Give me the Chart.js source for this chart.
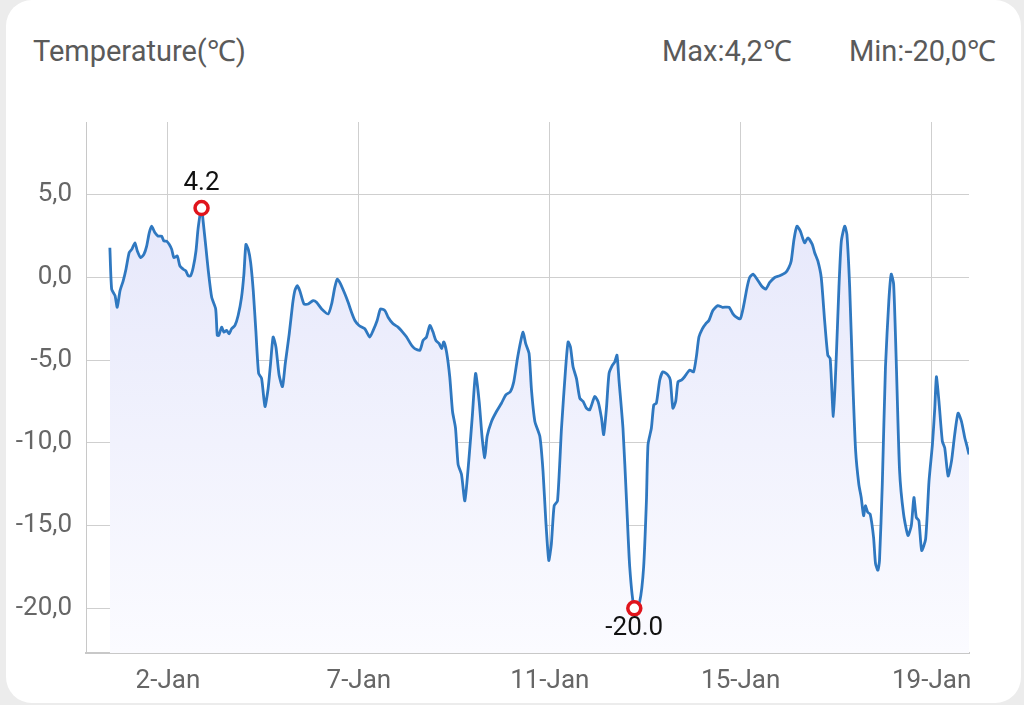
<!DOCTYPE html>
<html>
<head>
<meta charset="utf-8">
<script src="https://cdn.jsdelivr.net/npm/chart.js@4.4.1/dist/chart.umd.min.js"></script>
<style>
  html, body { margin: 0; padding: 0; background: #ececec; width: 1024px; height: 705px; overflow: hidden; }
  .card { position: absolute; left: 6px; top: 0; width: 1015px; height: 703px; background: #fff; border-radius: 26px; }
  .hdr { position: absolute; font-family: Roboto, sans-serif; font-size: 29px; color: #5a5a5a; top: 30px; white-space: nowrap; }
  #chart { position: absolute; left: 0; top: 0; }
</style>
</head>
<body>
<div class="card"></div>
<div class="hdr" style="left:33px">Temperature(℃)</div>
<div class="hdr" style="left:662px">Max:4,2℃</div>
<div class="hdr" style="right:28px">Min:-20,0℃</div>
<canvas id="chart" width="1024" height="705"></canvas>
<script>
// hours from the 2-Jan gridline (one label step = 96 h)
const hours = [
  -29.2,-28.3,-26.6,-25.5,-24.1,-22.5,-21.1,-19.5,-18.2,-16.6,
  -15.4,-13.7,-12.1,-10.7,-9.4,-8.2,-6.5,-4.9,-3.2,-2.0,
  -0.7,0.7,1.9,3.0,4.7,6.0,7.7,9.0,10.2,11.4,
  12.7,14.1,15.2,16.9,17.7,19.1,20.3,22.0,24.0,24.8,
  25.6,27.0,28.1,29.5,30.8,32.0,33.7,35.3,37.0,38.2,
  39.2,40.4,41.6,42.9,44.2,45.6,47.1,48.8,50.4,51.6,
  52.9,54.3,55.9,57.6,59.0,61.0,62.7,63.8,65.0,66.3,
  68.4,70.5,73.0,74.7,77.3,80.6,82.3,83.9,85.1,86.4,
  89.0,90.6,92.3,94.0,96.1,99.0,101.5,103.2,105.2,106.9,
  109.1,110.7,113.2,115.7,118.0,120.0,122.5,124.1,126.7,128.3,
  130.0,131.7,133.3,134.7,136.4,137.6,138.7,140.1,141.7,143.1,
  144.6,145.9,147.6,149.3,151.4,153.1,154.7,156.5,158.0,159.3,
  160.5,162.7,165.2,167.7,169.9,172.2,173.9,175.6,177.3,178.6,
  179.9,181.6,182.8,184.5,187.0,188.6,190.0,191.5,192.8,194.2,
  195.9,197.9,199.9,201.2,202.4,203.7,205.4,207.1,208.8,210.4,
  212.1,214.6,216.3,218.0,219.1,220.5,221.8,223.5,224.7,225.8,
  226.8,228.8,230.6,232.2,234.5,237.2,239.2,240.6,241.4,243.1,
  244.3,245.6,247.3,248.9,251.4,252.6,253.9,255.3,256.5,258.2,
  259.8,262.3,264.3,265.7,267.0,268.7,270.4,272.0,274.0,276.5,
  278.8,282.1,284.1,285.8,287.8,289.5,291.2,292.5,294.2,296.2,
  298.4,300.6,302.6,305.1,307.6,310.6,312.2,313.4,314.8,316.3,
  318.0,320.1,321.8,324.0,325.2,326.8,328.5,330.2,331.8,333.0,
  334.6,336.1,337.4,338.6,340.3,341.4,342.8,344.4,345.8,347.4,
  348.6,349.8,350.7,351.9,353.1,354.8,355.8,357.0,357.8,359.2,
  360.8,362.5,363.7,364.9,366.2,367.9,369.9,372.1,373.8,375.1,
  376.3,377.6,379.0,381.0,382.7,384.4,385.6,386.4,387.7,389.4,
  390.6,392.3,394.0,395.6,397.3,399.0,400.7,401.8,402.8
];
const temps = [
  1.8,-0.7,-1.1,-1.8,-0.8,-0.2,0.5,1.5,1.7,2.1,
  1.6,1.2,1.4,1.9,2.7,3.1,2.7,2.5,2.5,2.2,
  2.2,2.0,1.7,1.2,1.3,0.7,0.5,0.4,0.1,0.1,
  0.6,1.6,3.0,4.2,3.4,1.8,0.4,-1.2,-1.9,-3.5,
  -3.5,-3.0,-3.3,-3.2,-3.4,-3.1,-2.9,-2.3,-1.2,0.2,
  2.0,1.7,0.9,-0.8,-3.2,-5.8,-6.1,-7.8,-6.7,-5.2,
  -3.6,-4.2,-5.9,-6.6,-5.2,-3.4,-1.6,-0.8,-0.5,-0.8,
  -1.6,-1.6,-1.4,-1.5,-1.9,-2.2,-1.6,-0.6,-0.1,-0.3,
  -1.0,-1.5,-2.1,-2.6,-2.9,-3.1,-3.6,-3.2,-2.6,-1.9,
  -2.0,-2.4,-2.8,-3.0,-3.3,-3.6,-4.1,-4.3,-4.4,-3.8,
  -3.6,-2.9,-3.3,-3.8,-4.0,-4.3,-3.9,-4.5,-6.0,-8.1,
  -9.1,-11.3,-11.9,-13.5,-10.9,-8.3,-5.8,-7.5,-9.7,-10.9,
  -9.6,-8.7,-8.1,-7.6,-7.1,-6.9,-6.3,-5.0,-3.9,-3.3,
  -4.0,-4.6,-6.8,-8.7,-9.6,-11.7,-14.7,-17.1,-16.1,-13.8,
  -13.5,-9.1,-5.6,-3.9,-4.2,-5.4,-6.1,-7.3,-7.5,-7.9,
  -8.0,-7.2,-7.5,-8.5,-9.5,-7.9,-5.8,-5.3,-5.1,-4.7,
  -6.2,-9.1,-13.5,-17.5,-20.0,-19.6,-17.5,-13.5,-10.1,-9.1,
  -7.7,-7.6,-6.2,-5.7,-5.9,-6.2,-7.9,-7.5,-6.3,-6.2,
  -6.0,-5.6,-5.7,-4.8,-3.6,-3.1,-2.8,-2.6,-2.0,-1.7,
  -1.8,-1.8,-2.2,-2.4,-2.5,-1.7,-0.6,0.0,0.2,-0.1,
  -0.5,-0.7,-0.3,0.0,0.1,0.3,0.6,1.0,2.3,3.1,
  2.8,2.1,2.4,2.0,1.5,1.0,0.0,-2.6,-4.7,-4.9,
  -8.4,-4.7,-0.6,2.2,3.1,2.6,-0.6,-6.4,-10.5,-12.5,
  -13.3,-14.4,-13.8,-14.2,-14.3,-15.7,-17.3,-17.7,-17.1,-12.5,
  -5.4,-1.4,0.2,-0.4,-5.0,-11.7,-14.3,-15.6,-15.0,-13.3,
  -14.5,-14.7,-16.5,-15.8,-12.3,-10.1,-7.9,-6.0,-7.5,-9.9,
  -10.3,-12.0,-11.1,-9.5,-8.2,-8.7,-9.7,-10.2,-10.7
];
const xTickPos = [0, 96, 192, 288, 384];
const xTickLabels = ['2-Jan', '7-Jan', '11-Jan', '15-Jan', '19-Jan'];
const yTicks = [-20, -15, -10, -5, 0, 5];

const maxIdx = temps.indexOf(Math.max(...temps));
const minIdx = temps.indexOf(Math.min(...temps));

const points = hours.map((h, i) => ({ x: h, y: temps[i] }));

const extremeLabels = {
    id: 'extremeLabels',
    afterDatasetsDraw(chart) {
        const meta = chart.getDatasetMeta(0);
        const ctx = chart.ctx;
        ctx.save();
        ctx.font = '26px Roboto, sans-serif';
        ctx.fillStyle = '#111';
        ctx.textAlign = 'center';
        const hi = meta.data[maxIdx];
        ctx.textBaseline = 'bottom';
        ctx.fillText(temps[maxIdx].toFixed(1), hi.x, hi.y - 12);
        const lo = meta.data[minIdx];
        ctx.textBaseline = 'top';
        ctx.fillText(temps[minIdx].toFixed(1), lo.x, lo.y + 7);
        ctx.restore();
    }
};

const ctx = document.getElementById('chart');
new Chart(ctx, {
    type: 'line',
    data: {
        datasets: [{
            data: points,
            borderColor: '#2f78c0',
            borderWidth: 2.8,
            tension: 0.2,
            fill: 'start',
            backgroundColor: (c) => {
                const area = c.chart.chartArea;
                if (!area) return 'rgba(226,228,250,0.8)';
                const g = c.chart.ctx.createLinearGradient(0, area.top, 0, area.bottom);
                g.addColorStop(0, '#e2e4fa');
                g.addColorStop(1, '#fbfbff');
                return g;
            },
            pointRadius: (c) => (c.dataIndex === maxIdx || c.dataIndex === minIdx) ? 6.5 : 0,
            pointHoverRadius: 0,
            pointBorderColor: '#e0141c',
            pointBackgroundColor: '#fff',
            pointBorderWidth: 3.5
        }]
    },
    options: {
        responsive: false,
        animation: false,
        devicePixelRatio: 1,
        layout: { padding: { top: 122, right: 55, left: 0, bottom: 0 } },
        plugins: { legend: { display: false }, tooltip: { enabled: false } },
        scales: {
            x: {
                type: 'linear',
                min: -41.2,
                max: 402.8,
                afterBuildTicks: (s) => { s.ticks = xTickPos.map(v => ({ value: v })); },
                afterFit: (s) => { s.height = 52; },
                ticks: {
                    autoSkip: false,
                    maxRotation: 0,
                    padding: 13,
                    color: '#666',
                    font: { family: 'Roboto, sans-serif', size: 26 },
                    callback: (v, i) => xTickLabels[i]
                },
                grid: { color: '#cfcfcf', lineWidth: 1, drawTicks: false },
                border: { color: '#c8c8c8', width: 2 }
            },
            y: {
                min: -22.7,
                max: 9.4,
                afterBuildTicks: (s) => { s.ticks = yTicks.map(v => ({ value: v })); },
                afterFit: (s) => { s.width = 86; },
                ticks: {
                    padding: 14,
                    color: '#666',
                    font: { family: 'Roboto, sans-serif', size: 26 },
                    callback: (v) => v.toFixed(1).replace('.', ',')
                },
                grid: { color: '#cfcfcf', lineWidth: 1, drawTicks: false },
                border: { color: '#c8c8c8', width: 1 }
            }
        }
    },
    plugins: [extremeLabels]
});
</script>
</body>
</html>
